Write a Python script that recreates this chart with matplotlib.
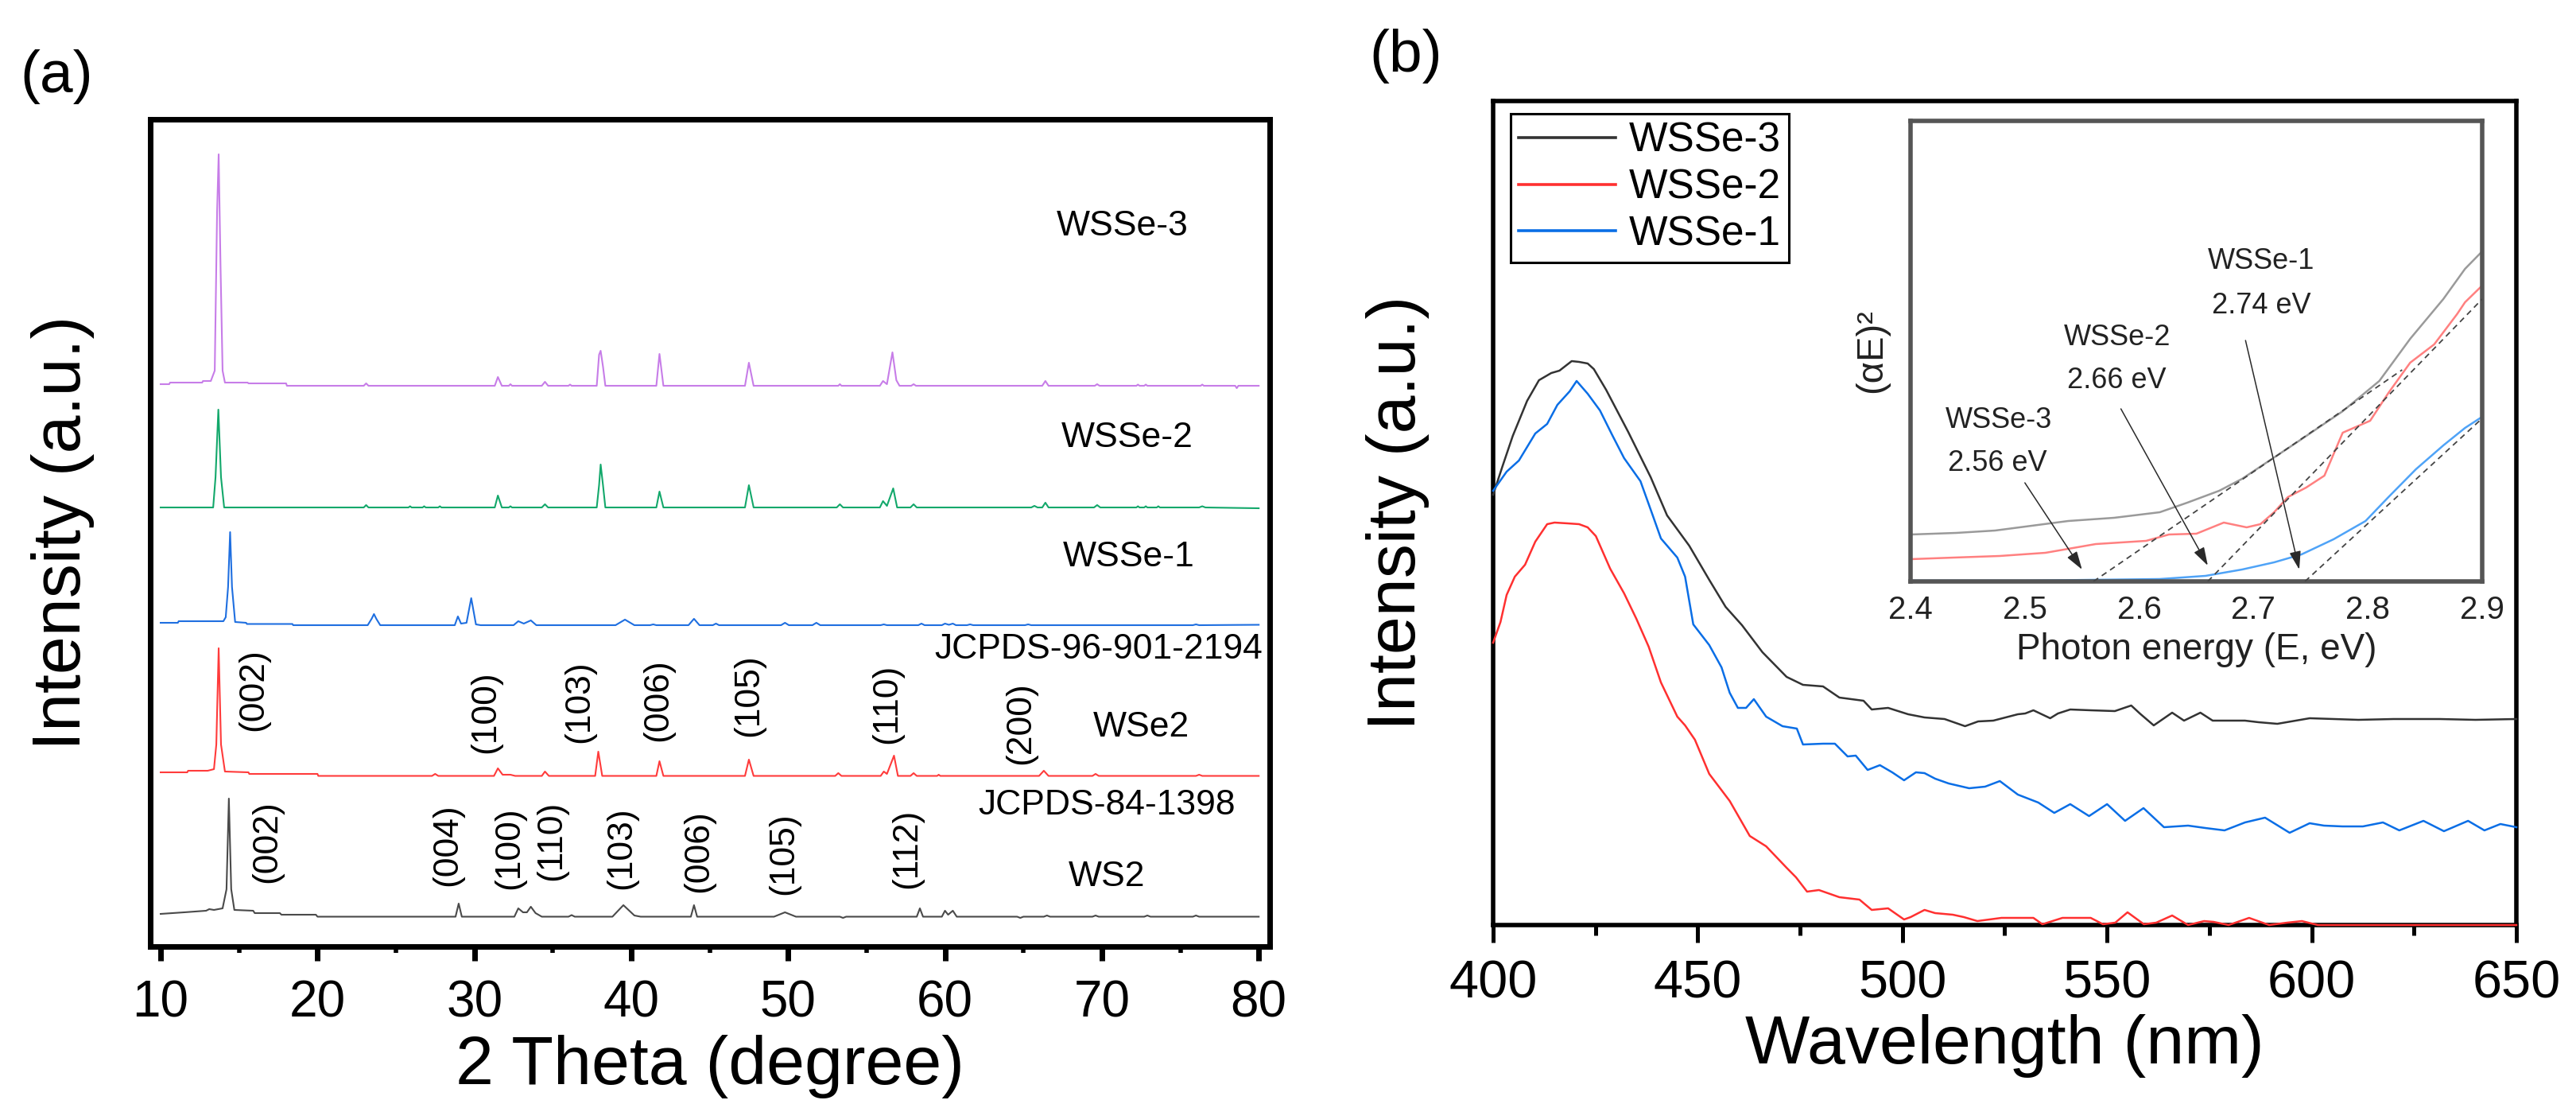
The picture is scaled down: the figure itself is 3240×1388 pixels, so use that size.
import matplotlib
matplotlib.use("Agg")
import matplotlib.pyplot as plt
from matplotlib.ticker import MultipleLocator

plt.rcParams['font.family'] = ['Liberation Sans', 'DejaVu Sans']

# ---------------- data: panel (a) XRD (2theta, intensity a.u.) ----------------
ws2 = [(10.0,4),(11.5,6),(12.9,8),(13.1,10),(13.4,9),(13.95,11),(14.2,35),(14.35,149),(14.5,35),(14.7,9),
       (15.9,8),(16.0,5),(17.6,5),(17.7,3),(19.9,3),(20.0,0.5),
       (28.8,0.5),(29.0,17),(29.2,0.5),
       (32.55,0.5),(32.8,11),(33.1,6),(33.35,6),(33.6,13),(33.9,5),(34.3,0.5),
       (36.0,0.5),(36.2,2.5),(36.4,0.5),
       (38.8,0.5),(39.5,15),(40.2,2),(40.6,0.5),
       (43.8,0.5),(44.0,15),(44.2,0.5),
       (49.1,0.5),(49.8,6),(50.5,0.5),
       (53.3,0.5),(53.5,-1),(53.7,0.5),
       (58.2,0.5),(58.4,11),(58.6,0.5),
       (59.8,0.5),(60.0,8),(60.2,3),(60.5,8),(60.75,0.5),
       (64.6,0.5),(64.8,-1),(65.0,0.5),
       (66.3,0.5),(66.5,2),(66.7,0.5),
       (69.4,0.5),(69.6,2),(69.8,0.5),
       (72.7,0.5),(72.9,2),(73.1,0.5),
       (75.8,0.5),(76.0,2),(76.2,0.5),
       (80.0,0.5)]

wse2 = [(10.0,5),(11.7,5),(11.75,7),(13.0,7),(13.4,9),(13.55,40),(13.7,161),(13.85,40),(14.1,6),
        (15.6,5),(15.65,3),(20.0,3),(20.05,0.5),
        (27.3,0.5),(27.5,3),(27.7,0.5),
        (31.25,0.5),(31.5,10),(31.8,2),(32.3,2),(32.6,0.5),
        (34.3,0.5),(34.5,6),(34.75,0.5),
        (37.7,0.5),(37.9,31),(38.15,0.5),
        (41.6,0.5),(41.8,19),(42.05,0.5),
        (47.25,0.5),(47.5,21),(47.8,0.5),
        (53.0,0.5),(53.2,4),(53.4,0.5),
        (55.9,0.5),(56.1,6),(56.3,3),(56.75,26),(57.0,0.5),
        (57.8,0.5),(58.0,4),(58.2,0.5),
        (59.5,0.5),(59.6,2),(59.7,0.5),
        (66.0,0.5),(66.3,7),(66.6,0.5),
        (69.4,0.5),(69.6,3),(69.8,0.5),
        (76.0,0.5),(76.2,2),(76.4,0.5),
        (80.0,0.5)]

wsse1 = [(10.0,5),(11.1,5),(11.15,7),(14.0,7),(14.15,12),(14.3,50),(14.43,119),(14.55,50),(14.75,6),
         (15.45,5),(15.5,3.5),(18.4,3.5),(18.45,2),
         (23.2,2),(23.45,10),(23.6,16),(23.75,10),(24.0,2),
         (28.75,2),(28.95,13),(29.15,4),(29.5,5),(29.8,36),(30.1,3),(30.4,2),
         (32.5,2),(32.8,7),(33.15,4),(33.6,8),(33.95,2),
         (39.0,2),(39.6,9),(40.2,2),
         (41.2,2),(41.4,3),(41.6,2),
         (43.65,2),(44.0,10),(44.35,2),
         (45.2,2),(45.4,4),(45.6,2),
         (49.55,2),(49.8,5),(50.05,2),
         (51.55,2),(51.8,5),(52.05,2),
         (55.9,2),(56.1,3),(56.3,2),
         (58.3,2),(58.5,4),(58.7,2),
         (59.8,2),(60.0,4),(60.25,2.5),(60.5,4),(60.7,2),
         (61.4,2),(61.6,3),(61.8,2),
         (65.1,2),(65.3,3),(65.5,2),
         (75.8,2),(76.0,3),(76.2,2),
         (80.0,2.5)]

wsse2 = [(10.0,2),(13.35,2),(13.5,40),(13.68,125),(13.85,40),(14.05,2),
         (22.95,2),(23.1,5),(23.25,2),
         (25.8,2),(25.9,3.5),(26.0,2),(26.7,2),(26.8,3.5),(26.9,2),(27.7,2),(27.8,3.5),(27.9,2),
         (31.3,2),(31.5,17),(31.75,2),
         (32.2,2),(32.3,3.5),(32.4,2),
         (34.3,2),(34.5,6),(34.7,2),
         (37.8,2),(37.95,30),(38.05,56),(38.2,30),(38.35,2),
         (41.6,2),(41.8,22),(42.05,2),
         (47.25,2),(47.5,30),(47.8,2),
         (53.1,2),(53.3,6),(53.5,2),
         (55.85,2),(56.05,10),(56.3,4),(56.7,26),(56.95,2),
         (57.8,2),(58.0,6),(58.2,2),
         (65.5,2),(65.7,4),(65.9,2),(66.2,2),(66.4,8),(66.6,2),
         (69.5,2),(69.7,5),(69.9,2),
         (72.2,2),(72.3,3.5),(72.4,2),(72.7,2),(72.8,3.5),(72.9,2),(73.5,2),(73.6,3.5),(73.7,2),
         (76.2,2),(76.4,3.5),(76.6,2),
         (80.0,1)]

wsse3 = [(10.0,3),(10.55,3),(10.6,5),(12.65,5),(12.7,7),(13.2,7),(13.45,20),(13.6,220),(13.7,292),(13.82,150),
         (13.95,20),(14.1,5),(15.55,5),(15.6,4),(18.0,4),(18.05,1),
         (22.95,1),(23.1,4),(23.25,1),
         (31.3,1),(31.5,12),(31.75,1),
         (32.2,1),(32.3,3),(32.4,1),
         (34.3,1),(34.5,6),(34.7,1),
         (36.0,1),(36.1,2.5),(36.2,1),
         (37.8,1),(37.95,40),(38.05,45),(38.2,25),(38.35,1),
         (41.6,1),(41.8,41),(42.05,1),
         (47.25,1),(47.5,30),(47.8,1),
         (53.2,1),(53.3,3),(53.4,1),
         (55.85,1),(56.05,7),(56.3,3),(56.65,43),(56.9,8),(57.1,1),
         (57.85,1),(58.0,3),(58.15,1),
         (66.2,1),(66.4,7),(66.6,1),
         (69.55,1),(69.7,3),(69.85,1),
         (72.2,1),(72.3,2.5),(72.4,1),(72.7,1),(72.8,2.5),(72.9,1),
         (76.3,1),(76.4,2.5),(76.5,1),
         (78.5,1),(78.6,-2),(78.7,1),
         (80.0,1)]

xrd_series = [ws2, wse2, wsse1, wsse2, wsse3]
xrd_colors = ['#4a4a4a', '#ff3b3b', '#1f6fe0', '#13a86b', '#c77de8']
xrd_offsets = [37, 214, 402, 550, 704]

sample_labels = ['WSSe-3', 'WSSe-2', 'WSSe-1', 'JCPDS-96-901-2194', 'WSe2', 'JCPDS-84-1398', 'WS2']
sample_label_x = [71.3, 71.6, 71.7, 69.8, 72.5, 70.3, 70.3]
sample_label_y = [905, 639, 489, 373, 275, 177, 87]

wse2_hkl = ['(002)', '(100)', '(103)', '(006)', '(105)', '(110)', '(200)']
wse2_hkl_x = [15.9, 30.7, 36.7, 41.7, 47.5, 56.3, 64.8]
wse2_hkl_y = [323, 295, 308, 310, 316, 305, 281]
ws2_hkl = ['(002)', '(004)', '(100)', '(110)', '(103)', '(006)', '(105)', '(112)']
ws2_hkl_x = [16.8, 28.3, 32.25, 34.9, 39.4, 44.3, 49.7, 57.6]
ws2_hkl_y = [132, 128, 124, 133, 124, 120, 117, 123]

xrd_ticks = [10, 20, 30, 40, 50, 60, 70, 80]

# ---------------- data: panel (b) PL (wavelength nm, intensity a.u.) ----------------
pl_wsse3 = [(400,541),(402.3,577),(404.8,615),(408.3,659),(411.2,685),(414.2,694),(416.2,697),(419.2,709),
            (421,708),(423.1,706),(424.6,699),(427.6,673),(433,620),(438.5,563),(442.5,515),(447.9,477),
            (452.8,434),(456.8,400),(460.8,377),(465.8,343),(471.7,312),(475.7,302),(480.6,300),(484.6,286),
            (490.5,282),(492.5,271),(496.5,273),(501.4,265),(505.4,261),(510.3,259),(515.3,250),(518.5,256),
            (522.2,257),(528.2,265),(530,266),(532,270),(536.1,260),(538,266),(541,271),(546,270),
            (551.9,269),(555.9,276),(558,266),(561.4,251),(565.9,267),(568.8,257),(572.8,267),(575.8,257),
            (583.7,257),(587,255),(591.6,253),(599.5,260),(611.4,258),(620,259),(631.3,259),(640,258),(650,259)]
pl_wsse2 = [(400,355),(401.8,381),(403.3,415),(405.3,438),(407.8,453),(410.3,482),(413.2,504),(415,506),
            (418.2,505),(421,504),(423.1,500),(425.1,489),(428.6,448),(432,417),(435,385),(438,350),
            (441,305),(445,262),(446.9,251),(449.3,233),(452.8,190),(457.8,156),(462.7,112),(466.7,99),
            (471.7,72),(474,60),(476.7,42),(479.6,44),(484.6,35),(489.5,32),(492.5,19),(496.5,21),
            (500.4,7),(502,10),(505.4,19),(508,15),(512.3,13),(515,10),(518.3,5),(524.2,9),(532,9),
            (534.2,1),(539.1,9),(546,9),(549,1),(552,3),(555,16),(559,1),(562,3),(565.9,12),(569.8,0),
            (573.7,5),(576,4),(579.7,0),(584.7,9),(589.6,0),(594,3),(597.6,5),(601.5,0),(650,0)]
pl_wsse1 = [(400,546),(403.3,570),(406.3,584),(410.3,618),(413.2,630),(415.7,654),(418.7,671),(420.4,684),
            (423.1,668),(426.1,647),(429.1,616),(432,587),(436,558),(439,515),(441,486),(445,462),
            (446.9,438),(448.9,378),(452.8,352),(455.8,324),(457.8,292),(459.8,273),(461.8,273),(463.7,284),
            (466.7,262),(470.7,250),(474.2,247),(475.7,227),(480.6,228),(483.5,228),(486.6,212),(488.6,213),
            (491.5,195),(494.5,201),(497.5,192),(500.4,182),(503.3,192),(505.4,191),(508,184),(511.3,178),
            (516.3,172),(520.2,174),(523.8,181),(528.2,164),(533.2,154),(537.1,141),(541,152),(545.6,137),
            (550,152),(554.4,131),(558.9,147),(563.9,123),(569.8,125),(574,122),(578.7,119),(583.7,129),
            (588.6,135),(594.6,116),(599.5,128),(603,125),(607.5,124),(612.5,124),(617.4,129),(621.4,119),
            (627.3,131),(632.3,118),(638.2,131),(642.2,119),(646.1,127),(650,123)]
pl_series = [pl_wsse3, pl_wsse2, pl_wsse1]
pl_names = ['WSSe-3', 'WSSe-2', 'WSSe-1']
pl_colors = ['#333333', '#ff3030', '#0a6ee6']
pl_ticks = [400, 450, 500, 550, 600, 650]

# ---------------- data: inset Tauc plot (photon energy eV, (alpha E)^2 a.u.) ----------------
tauc_wsse3 = [(2.4,59),(2.44,61),(2.474,64),(2.506,70),(2.538,76),(2.578,80),(2.618,87),(2.642,99),(2.67,114),
              (2.69,129),(2.714,152),(2.738,175),(2.778,214),(2.81,252),(2.837,305),(2.866,355),(2.885,393),(2.9,415)]
tauc_wsse2 = [(2.4,28),(2.438,30),(2.478,32),(2.518,36),(2.562,47),(2.606,51),(2.626,59),(2.65,60),(2.674,74),
              (2.694,68),(2.706,72),(2.718,87),(2.73,106),(2.746,118),(2.762,133),(2.77,160),(2.778,187),
              (2.802,202),(2.818,237),(2.837,275),(2.858,298),(2.878,336),(2.885,351),(2.9,372)]
tauc_wsse1 = [(2.4,1),(2.5,1),(2.618,3),(2.658,7),(2.69,15),(2.718,24),(2.742,34),(2.77,53),(2.798,76),
              (2.818,106),(2.842,141),(2.866,171),(2.885,193),(2.9,207)]
tauc_series = [tauc_wsse3, tauc_wsse2, tauc_wsse1]
tauc_colors = ['#9a9a9a', '#ff8080', '#4fa3f7']
tangent_x = [[2.56, 2.83], [2.66, 2.9], [2.745, 2.9]]
tangent_y = [[0, 266], [0, 355], [0, 205]]
gap_names = ['WSSe-3', 'WSSe-2', 'WSSe-1']
gap_values = ['2.56 eV', '2.66 eV', '2.74 eV']
gap_name_xy = [(2.477, 203), (2.581, 307), (2.707, 402)]
gap_value_xy = [(2.476, 148), (2.58, 253), (2.707, 347)]
arrow_start = [(2.50, 124), (2.584, 217), (2.693, 303)]
arrow_end = [(2.55, 15), (2.66, 20), (2.74, 15)]
tauc_ticks = [2.4, 2.5, 2.6, 2.7, 2.8, 2.9]

# ---------------- figure ----------------
W, H = 3241, 1388
fig = plt.figure(figsize=(W / 100, H / 100), dpi=100)


def rect(x0, y0, x1, y1):
    return [x0 / W, 1 - y1 / H, (x1 - x0) / W, (y1 - y0) / H]


axA = fig.add_axes(rect(189, 150, 1597, 1190))
axB = fig.add_axes(rect(1878, 127, 3165, 1163))
axI = fig.add_axes(rect(2403, 152, 3122, 731))

# ----- panel (a) -----
for pts, col, off in zip(xrd_series, xrd_colors, xrd_offsets):
    xs = [p[0] for p in pts]
    ys = [p[1] + off for p in pts]
    axA.plot(xs, ys, color=col, lw=1.5)

axA.set_xlim(9.34, 80.7)
axA.set_ylim(0, 1040)
axA.set_xticks(xrd_ticks)
axA.xaxis.set_minor_locator(MultipleLocator(5))
axA.set_yticks([])
axA.tick_params(axis='x', which='major', direction='out', length=13, width=5, pad=17, labelsize=46)
axA.tick_params(axis='x', which='minor', direction='out', length=6, width=4)
for s in axA.spines.values():
    s.set_linewidth(5)
axA.set_xlabel('2 Theta (degree)', fontsize=62)
axA.xaxis.set_label_coords(0.5, -0.107)
axA.set_ylabel('Intensity (a.u.)', fontsize=62)
axA.yaxis.set_label_coords(-0.0497, 0.5)

for t, x, y in zip(sample_labels, sample_label_x, sample_label_y):
    axA.text(x, y, t, fontsize=32, ha='center', va='center')
for t, x, y in zip(wse2_hkl, wse2_hkl_x, wse2_hkl_y):
    axA.text(x, y, t, fontsize=32, ha='center', va='center', rotation=90)
for t, x, y in zip(ws2_hkl, ws2_hkl_x, ws2_hkl_y):
    axA.text(x, y, t, fontsize=32, ha='center', va='center', rotation=90)

# ----- panel (b) -----
lines = []
for pts, col, name in zip(pl_series, pl_colors, pl_names):
    xs = [p[0] for p in pts]
    ys = [p[1] for p in pts]
    ln, = axB.plot(xs, ys, color=col, lw=1.8, label=name, clip_on=False, zorder=3)
    lines.append(ln)

axB.set_xlim(400, 650)
axB.set_ylim(0, 1036)
axB.set_xticks(pl_ticks)
axB.xaxis.set_minor_locator(MultipleLocator(25))
axB.set_yticks([])
axB.tick_params(axis='x', which='major', direction='out', length=16, width=3.6, pad=15, labelsize=48)
axB.tick_params(axis='x', which='minor', direction='out', length=9, width=3.6)
for s in axB.spines.values():
    s.set_linewidth(4)
axB.set_xlabel('Wavelength (nm)', fontsize=62)
axB.xaxis.set_label_coords(0.5, -0.108)
axB.set_ylabel('Intensity (a.u.)', fontsize=62)
axB.yaxis.set_label_coords(-0.0622, 0.5)

leg = axB.legend(handles=lines, loc='upper left', bbox_to_anchor=(0.017, 0.985), borderaxespad=0,
                 fontsize=37, handlelength=2.37, handletextpad=0.33, labelspacing=0.19, borderpad=0.2,
                 fancybox=False, framealpha=1, edgecolor='black')
leg.get_frame().set_linewidth(2.2)
for h in leg.get_lines():
    h.set_linewidth(2.6)

# ----- inset -----
axI.set_facecolor('white')
for pts, col in zip(tauc_series, tauc_colors):
    xs = [p[0] for p in pts]
    ys = [p[1] for p in pts]
    axI.plot(xs, ys, color=col, lw=1.8, clip_on=False, zorder=2)
for tx, ty in zip(tangent_x, tangent_y):
    axI.plot(tx, ty, color='#444444', lw=1.3, ls=(0, (4, 3)), zorder=3)
for n, v, nxy, vxy in zip(gap_names, gap_values, gap_name_xy, gap_value_xy):
    axI.text(nxy[0], nxy[1], n, fontsize=26, ha='center', va='center', color='#222222')
    axI.text(vxy[0], vxy[1], v, fontsize=26, ha='center', va='center', color='#222222')
for a0, a1 in zip(arrow_start, arrow_end):
    axI.annotate('', xy=a1, xytext=a0,
                 arrowprops=dict(arrowstyle='-|>,head_length=0.7,head_width=0.22', color='#2a2a2a',
                                 lw=1.1, mutation_scale=20, shrinkA=0, shrinkB=0))
axI.set_xlim(2.4, 2.9)
axI.set_ylim(0, 579)
axI.set_xticks(tauc_ticks)
axI.set_xticklabels([f'{t:.1f}' for t in tauc_ticks])
axI.set_yticks([])
axI.tick_params(axis='x', length=0, pad=12, labelsize=29, labelcolor='#222222')
for s in axI.spines.values():
    s.set_linewidth(4)
    s.set_color('#555555')
axI.set_xlabel('Photon energy (E, eV)', fontsize=33, color='#222222')
axI.xaxis.set_label_coords(0.5, -0.11)
axI.text(-0.068, 0.5, '(\u03b1E)\u00b2', transform=axI.transAxes, rotation=90, ha='center', va='center',
         fontsize=34, color='#222222')

# ----- panel letters -----
fig.text(25 / W, 1 - 116 / H, '(a)', fontsize=54, ha='left', va='baseline')
fig.text(1722 / W, 1 - 90 / H, '(b)', fontsize=54, ha='left', va='baseline')

fig.savefig('out.png', dpi=100)
